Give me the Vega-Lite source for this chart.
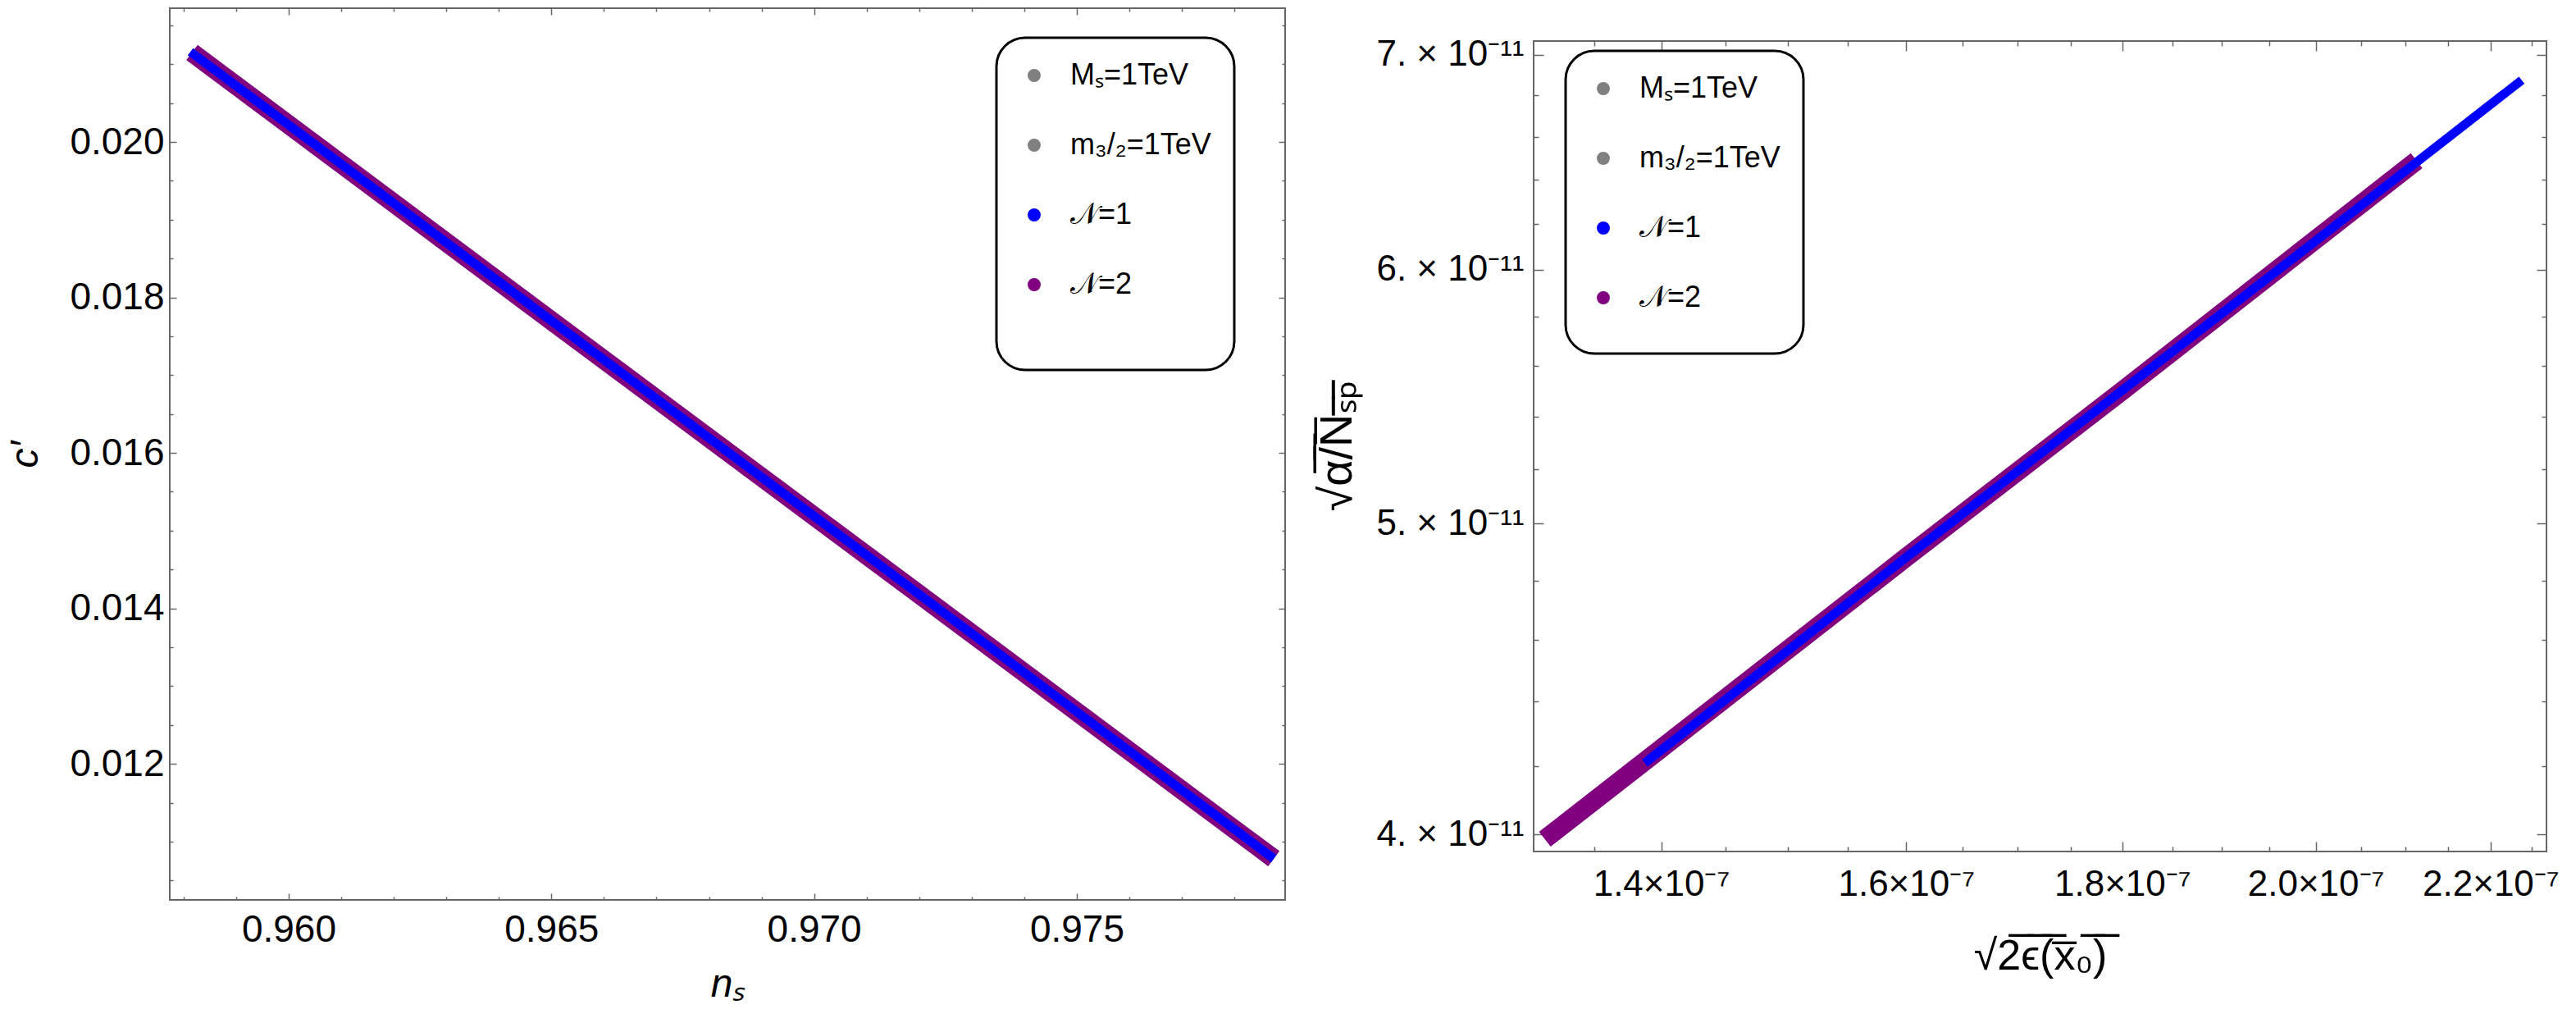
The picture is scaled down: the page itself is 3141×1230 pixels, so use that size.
{
  "$schema": "https://vega.github.io/schema/vega-lite/v6.json",
  "background": "white",
  "padding": {"left": 6, "top": 8, "right": 0, "bottom": 0},
  "spacing": 0,
  "datasets": {
    "left": [
      {"n_s": 0.95816, "c": 0.02115, "series": "𝒩=2"},
      {"n_s": 0.965, "c": 0.01770, "series": "𝒩=2"},
      {"n_s": 0.972, "c": 0.01418, "series": "𝒩=2"},
      {"n_s": 0.97875, "c": 0.01078, "series": "𝒩=2"},
      {"n_s": 0.95813, "c": 0.02116, "series": "𝒩=1"},
      {"n_s": 0.965, "c": 0.01770, "series": "𝒩=1"},
      {"n_s": 0.972, "c": 0.01418, "series": "𝒩=1"},
      {"n_s": 0.97875, "c": 0.01078, "series": "𝒩=1"}
    ],
    "right": [
      {"eps": 1.314e-7, "alpha": 3.986e-11, "series": "𝒩=2"},
      {"eps": 1.6e-7, "alpha": 4.88e-11, "series": "𝒩=2"},
      {"eps": 1.8e-7, "alpha": 5.50e-11, "series": "𝒩=2"},
      {"eps": 2.113e-7, "alpha": 6.488e-11, "series": "𝒩=2"},
      {"eps": 1.3876e-7, "alpha": 4.21e-11, "series": "𝒩=1"},
      {"eps": 1.6e-7, "alpha": 4.88e-11, "series": "𝒩=1"},
      {"eps": 2.0e-7, "alpha": 6.125e-11, "series": "𝒩=1"},
      {"eps": 2.2376e-7, "alpha": 6.874e-11, "series": "𝒩=1"}
    ]
  },
  "config": {
    "view": {"stroke": "#666666", "strokeWidth": 2},
    "axis": {
      "domain": false, "grid": false,
      "tickColor": "#666666", "tickWidth": 1.5,
      "labelFont": "Liberation Sans", "labelFontSize": 46, "labelColor": "black", "labelLimit": 400,
      "labelOverlap": false, "labelFlush": false, "labelBound": false,
      "titleFont": "Liberation Sans", "titleFontSize": 48, "titleFontWeight": "normal", "titleColor": "black"
    },
    "legend": {
      "orient": "none",
      "strokeColor": "black", "fillColor": "white", "cornerRadius": 35, "padding": 28,
      "labelFont": "Liberation Sans", "labelFontSize": 36, "labelColor": "black", "labelLimit": 400,
      "labelOffset": 26, "rowPadding": 49,
      "symbolType": "circle", "symbolSize": 254, "symbolOpacity": 1, "symbolStrokeWidth": 0,
      "titleOrient": "bottom", "titleFontSize": 10
    }
  },
  "resolve": {"legend": {"color": "independent"}, "scale": {"color": "independent"}},
  "hconcat": [
    {
      "width": 1360,
      "height": 1087,
      "data": {"name": "left"},
      "resolve": {"axis": {"x": "independent", "y": "independent"}},
      "layer": [
        {
          "transform": [{"filter": "datum.series === '𝒩=2'"}],
          "mark": {"type": "line", "color": "#800080", "strokeWidth": 23, "strokeCap": "butt"},
          "encoding": {
            "x": {"field": "n_s", "type": "quantitative",
              "scale": {"domain": [0.957737, 0.978965], "nice": false, "zero": false},
              "axis": {"orient": "bottom", "values": [0.96, 0.965, 0.97, 0.975], "format": ".3f",
                "tickSize": -8, "labelPadding": 22, "title": "nₛ", "titleFontStyle": "italic", "titlePadding": 20}},
            "y": {"field": "c", "type": "quantitative",
              "scale": {"domain": [0.01025, 0.02172], "nice": false, "zero": false},
              "axis": {"orient": "left", "values": [0.012, 0.014, 0.016, 0.018, 0.02], "format": ".3f",
                "tickSize": -8, "labelPadding": 15, "title": "c′", "titleFontStyle": "italic", "titlePadding": 29}}
          }
        },
        {
          "transform": [{"filter": "datum.series === '𝒩=1'"}],
          "mark": {"type": "line", "color": "#0000ff", "strokeWidth": 11, "strokeCap": "butt"},
          "encoding": {
            "x": {"field": "n_s", "type": "quantitative",
              "axis": {"orient": "top", "values": [0.96, 0.965, 0.97, 0.975], "labels": false, "tickSize": -8, "title": null}},
            "y": {"field": "c", "type": "quantitative",
              "axis": {"orient": "right", "values": [0.012, 0.014, 0.016, 0.018, 0.02], "labels": false, "tickSize": -8, "title": null}}
          }
        },
        {
          "mark": {"type": "point", "filled": true, "opacity": 0},
          "encoding": {
            "x": {"field": "n_s", "type": "quantitative",
              "axis": {"orient": "bottom", "values": [0.958, 0.959, 0.961, 0.962, 0.963, 0.964, 0.966, 0.967, 0.968, 0.969, 0.971, 0.972, 0.973, 0.974, 0.976, 0.977, 0.978], "labels": false, "tickSize": -4, "title": null}},
            "y": {"field": "c", "type": "quantitative",
              "axis": {"orient": "left", "values": [0.0105, 0.011, 0.0115, 0.0125, 0.013, 0.0135, 0.0145, 0.015, 0.0155, 0.0165, 0.017, 0.0175, 0.0185, 0.019, 0.0195, 0.0205, 0.021, 0.0215], "labels": false, "tickSize": -4, "title": null}},
            "color": {"field": "series", "type": "nominal",
              "scale": {"domain": ["Mₛ=1TeV", "m₃/₂=1TeV", "𝒩=1", "𝒩=2"], "range": ["#808080", "#808080", "#0000ff", "#800080"]},
              "legend": {"title": " ", "titlePadding": 48, "legendX": 1008, "legendY": 36,
                "encode": {"legend": {"update": {"strokeWidth": {"value": 3}}}}}}
          }
        },
        {
          "mark": {"type": "line", "opacity": 0},
          "encoding": {
            "x": {"field": "n_s", "type": "quantitative",
              "axis": {"orient": "top", "values": [0.958, 0.959, 0.961, 0.962, 0.963, 0.964, 0.966, 0.967, 0.968, 0.969, 0.971, 0.972, 0.973, 0.974, 0.976, 0.977, 0.978], "labels": false, "tickSize": -4, "title": null}},
            "y": {"field": "c", "type": "quantitative",
              "axis": {"orient": "right", "values": [0.0105, 0.011, 0.0115, 0.0125, 0.013, 0.0135, 0.0145, 0.015, 0.0155, 0.0165, 0.017, 0.0175, 0.0185, 0.019, 0.0195, 0.0205, 0.021, 0.0215], "labels": false, "tickSize": -4, "title": null}}
          }
        }
      ]
    },
    {
      "spacing": 32,
      "vconcat": [
        {
          "width": 1235,
          "height": 1,
          "view": {"stroke": null},
          "data": {"name": "right"},
          "mark": {"type": "rule", "opacity": 0},
          "encoding": {}
        },
        {
          "width": 1235,
          "height": 988,
          "data": {"name": "right"},
          "resolve": {"axis": {"x": "independent", "y": "independent"}},
          "layer": [
            {
              "transform": [{"filter": "datum.series === '𝒩=2'"}],
              "mark": {"type": "line", "color": "#800080", "strokeWidth": 23, "strokeCap": "butt"},
              "encoding": {
                "x": {"field": "eps", "type": "quantitative",
                  "scale": {"type": "log", "domain": [1.306e-7, 2.268e-7], "nice": false},
                  "axis": {"orient": "bottom", "values": [1.4e-7, 1.6e-7, 1.8e-7, 2.0e-7, 2.2e-7],
                    "labelExpr": "format(datum.value * 1e7, '.1f') + '×10⁻⁷'", "labelFontSize": 44,
                    "tickSize": -12, "labelPadding": 30, "title": "√2̅ϵ̅(̅x̅₀̅)̅", "titleFontSize": 52, "titlePadding": 40}},
                "y": {"field": "alpha", "type": "quantitative",
                  "scale": {"type": "log", "domain": [3.951e-11, 7.07e-11], "nice": false},
                  "axis": {"orient": "left", "values": [4e-11, 5e-11, 6e-11, 7e-11],
                    "labelExpr": "format(datum.value * 1e11, '.0f') + '. × 10⁻¹¹'", "labelFontSize": 44,
                    "tickSize": -12, "labelPadding": 24, "title": "√α̅/̅N̅ₛ̅ₚ̅", "titleFontSize": 56, "titlePadding": 18}}
              }
            },
            {
              "transform": [{"filter": "datum.series === '𝒩=1'"}],
              "mark": {"type": "line", "color": "#0000ff", "strokeWidth": 11, "strokeCap": "butt"},
              "encoding": {
                "x": {"field": "eps", "type": "quantitative",
                  "axis": {"orient": "top", "values": [1.4e-7, 1.6e-7, 1.8e-7, 2.0e-7, 2.2e-7], "labels": false, "tickSize": -12, "title": null}},
                "y": {"field": "alpha", "type": "quantitative",
                  "axis": {"orient": "right", "values": [4e-11, 5e-11, 6e-11, 7e-11], "labels": false, "tickSize": -12, "title": null}}
              }
            },
            {
              "mark": {"type": "point", "filled": true, "opacity": 0},
              "encoding": {
                "x": {"field": "eps", "type": "quantitative",
                  "axis": {"orient": "bottom", "values": [1.35e-7, 1.45e-7, 1.5e-7, 1.55e-7, 1.65e-7, 1.7e-7, 1.75e-7, 1.85e-7, 1.9e-7, 1.95e-7, 2.05e-7, 2.1e-7, 2.15e-7, 2.25e-7], "labels": false, "tickSize": -6, "title": null}},
                "y": {"field": "alpha", "type": "quantitative",
                  "axis": {"orient": "left", "values": [4.2e-11, 4.4e-11, 4.6e-11, 4.8e-11, 5.2e-11, 5.4e-11, 5.6e-11, 5.8e-11, 6.2e-11, 6.4e-11, 6.6e-11, 6.8e-11], "labels": false, "tickSize": -6, "title": null}},
                "color": {"field": "series", "type": "nominal",
                  "scale": {"domain": ["Mₛ=1TeV", "m₃/₂=1TeV", "𝒩=1", "𝒩=2"], "range": ["#808080", "#808080", "#0000ff", "#800080"]},
                  "legend": {"title": " ", "titleFontSize": 2, "titlePadding": 20, "legendX": 39, "legendY": 52,
                    "encode": {"legend": {"update": {"strokeWidth": {"value": 3}}}}}}
              }
            },
            {
              "mark": {"type": "line", "opacity": 0},
              "encoding": {
                "x": {"field": "eps", "type": "quantitative",
                  "axis": {"orient": "top", "values": [1.35e-7, 1.45e-7, 1.5e-7, 1.55e-7, 1.65e-7, 1.7e-7, 1.75e-7, 1.85e-7, 1.9e-7, 1.95e-7, 2.05e-7, 2.1e-7, 2.15e-7, 2.25e-7], "labels": false, "tickSize": -6, "title": null}},
                "y": {"field": "alpha", "type": "quantitative",
                  "axis": {"orient": "right", "values": [4.2e-11, 4.4e-11, 4.6e-11, 4.8e-11, 5.2e-11, 5.4e-11, 5.6e-11, 5.8e-11, 6.2e-11, 6.4e-11, 6.6e-11, 6.8e-11], "labels": false, "tickSize": -6, "title": null}}
              }
            }
          ]
        }
      ]
    }
  ]
}
